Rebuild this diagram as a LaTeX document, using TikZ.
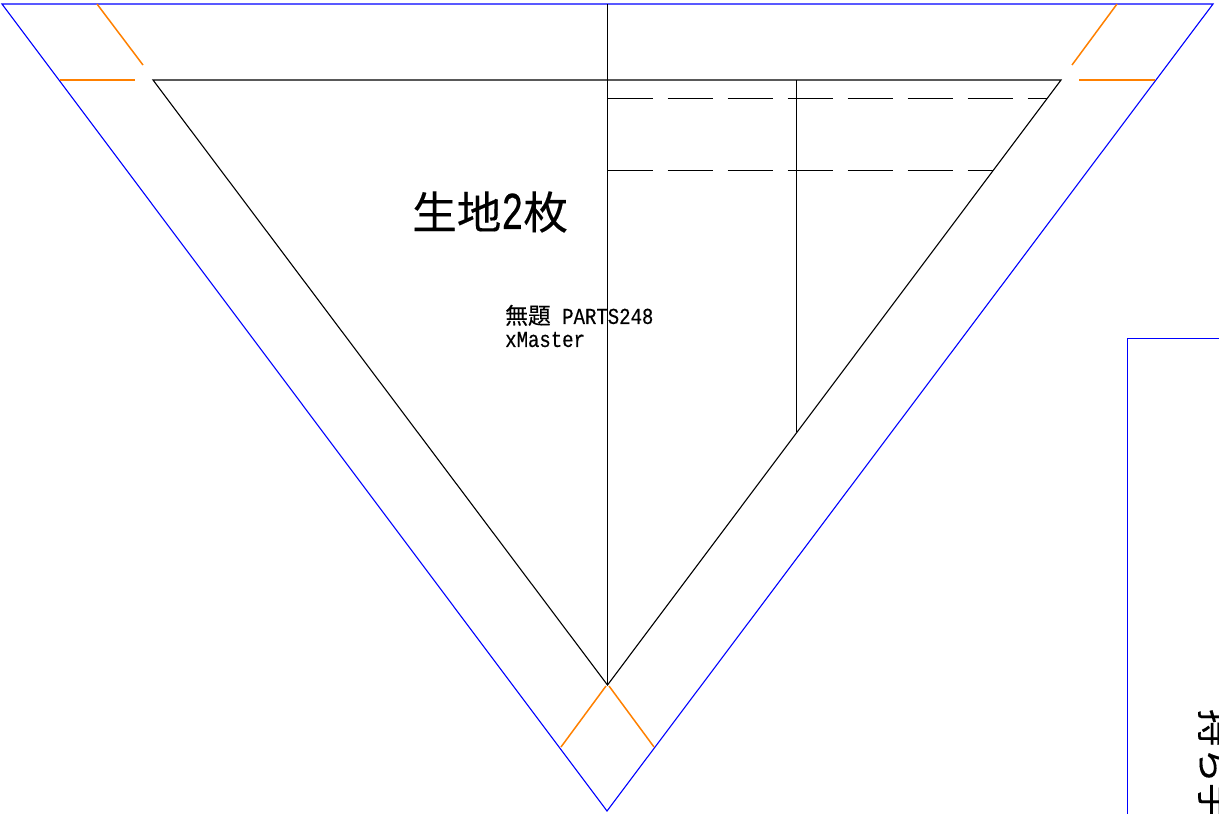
\documentclass[tikz,border=0pt]{standalone}
\usepackage{fontspec}
\setmainfont[FakeBold=0.3]{Noto Sans CJK JP}
\newfontfamily\halfmono[FakeStretch=0.833,FakeBold=0.3]{Liberation Mono}
\newfontfamily\halftall[FakeStretch=0.69,FakeBold=0.5]{Liberation Mono}
\tikzset{
	cutline/.style={blue,line width=1.1pt},
	sewline/.style={black,line width=1.1pt},
	foldline/.style={black,line width=1.1pt,dash pattern=on 45pt off 15pt},
	markline/.style={orange,line width=1.5pt},
	partlabel/.style={anchor=west,inner sep=0pt,black,align=left}
}
\begin{document}
\begin{tikzpicture}[x=1pt,y=-1pt]
\useasboundingbox (0,0) rectangle (1219,814);
\clip (0,0) rectangle (1219,814);

% outer edge
\coordinate (outerL) at (2,4);
\coordinate (outerR) at (1213,4);
\coordinate (outerB) at (607,811);
\draw[cutline] (outerL) -- (outerR) -- (outerB) -- cycle;

% inner edge
\coordinate (innerL) at (153,80);
\coordinate (innerR) at (1061,80);
\coordinate (innerB) at (607.5,685);
\draw[sewline] (innerL) -- (innerR) -- (innerB) -- cycle;

\coordinate (midT) at (607.5,4);
\draw[sewline] (midT) -- (innerB);
\coordinate (sideT) at (796.5,80);
\coordinate (sideB) at (796.5,432);
\draw[sewline] (sideT) -- (sideB);

% folds
\coordinate (foldAL) at (607.5,98.5);
\coordinate (foldAR) at (1047,98.5);
\coordinate (foldBL) at (607.5,170.5);
\coordinate (foldBR) at (993,170.5);
\draw[foldline] (foldAL) -- (foldAR);
\draw[foldline] (foldBL) -- (foldBR);

% corner marks
\coordinate (markA1) at (97,4);
\coordinate (markA2) at (143,65);
\coordinate (markB1) at (60,80);
\coordinate (markB2) at (135,80);
\coordinate (markC1) at (1117,4);
\coordinate (markC2) at (1072,65);
\coordinate (markD1) at (1079,80);
\coordinate (markD2) at (1155,80);
\coordinate (markE1) at (606,686);
\coordinate (markE2) at (561,747);
\coordinate (markF1) at (609,686);
\coordinate (markF2) at (654,747);
\foreach \a/\b in {markA1/markA2,markB1/markB2,markC1/markC2,markD1/markD2,markE1/markE2,markF1/markF2}{
	\draw[markline] (\a) -- (\b);
	}

% next part
\coordinate (boxB) at (1127.5,814);
\coordinate (boxT) at (1127.5,338.5);
\coordinate (boxR) at (1219,338.5);
\draw[cutline] (boxB) -- (boxT) -- (boxR);

\node[partlabel,font=\fontsize{44.6}{48}\selectfont] (fabric) at (412,212) {生地{\halftall\fontsize{53}{48}\selectfont 2}枚};
\node[partlabel,font=\fontsize{22.8}{23}\selectfont] (partname) at (505,326) {無題{\halfmono\ PARTS248}\\{\halfmono xMaster}};
\node[rotate=-90,anchor=base west,inner sep=0pt,font=\fontsize{37}{40}\selectfont] (handle) at (1201,709) {持ち手};
\end{tikzpicture}
\end{document}
